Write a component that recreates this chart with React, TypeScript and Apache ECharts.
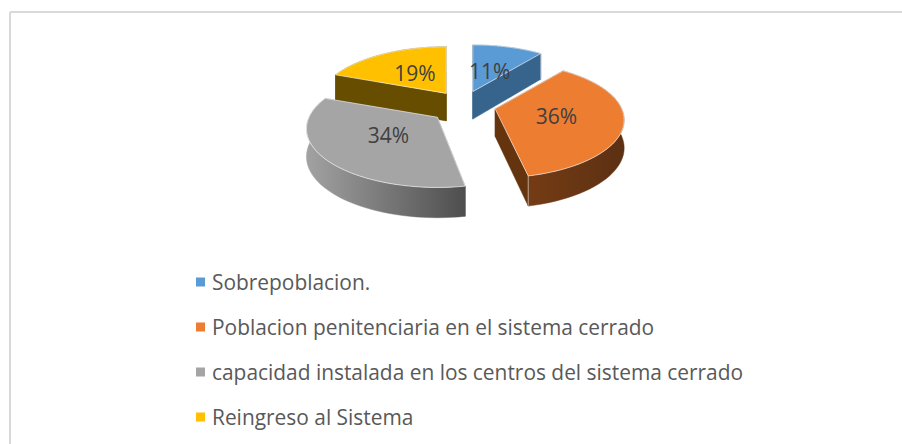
import React, { useEffect, useRef } from "react";
import * as echarts from "echarts";

const categories = [
  "Sobrepoblacion.",
  "Poblacion penitenciaria en el sistema cerrado",
  "capacidad instalada en los centros del sistema cerrado",
  "Reingreso al Sistema",
];
const values = [10.6, 36, 34.2, 19.2];
const topColors = ["#5B9BD5", "#ED7D31", "#A5A5A5", "#FFC000"];
const radialWallColors = ["#36648C", "#64340F", "#636363", "#664D00"];
const arcWallStart = ["#36648C", "#743C14", "#A2A2A2", "#664D00"];
const arcWallEnd = ["#36648C", "#5C3013", "#4E4E4E", "#664D00"];
const drawOrder = [0, 3, 1, 2];

const CX = 463;
const CY = 105.6;
const R = 126.6;
const K = 55.7;
const P = 0.192;
const EX = 33;
const EY = 14.8;
const DEPTH = 27.5;
const FONT = "'Open Sans', sans-serif";
const sliceScale = [1, 1, 1.015, 1];
const startInsetDeg = [0, 0, 2.2, 0];
const nudgeX = [-1, 0, -0.5, 2];
const nudgeY = [0, 0, 2, 0];
const labelNudgeX = [-1, 2, -1, 0];
const labelNudgeY = [2, 1, 0, 0];

const total = values.reduce((a, b) => a + b, 0);

function project(ax: number, ay: number, theta: number, r: number) {
  const s = Math.sin(theta);
  const c = Math.cos(theta);
  const d = 1 + P * r * c;
  return [ax + (R * r * s) / d, ay - (K * r * c) / d];
}
function depthAt(theta: number, r: number) {
  return DEPTH / (1 + 0.09 * r * Math.cos(theta));
}

function sliceChildren(i: number) {
  const before = values.slice(0, i).reduce((a, b) => a + b, 0);
  const t0Raw = (before / total) * Math.PI * 2;
  const t1 = ((before + values[i]) / total) * Math.PI * 2;
  const t0 = t0Raw + (startInsetDeg[i] * Math.PI) / 180;
  const mid = (t0Raw + t1) / 2;
  const ax = CX + EX * Math.sin(mid) + nudgeX[i];
  const ay = CY - EY * Math.cos(mid) + nudgeY[i];
  const scale = sliceScale[i];

  const steps = 48;
  const top: number[][] = [];
  const bottom: number[][] = [];
  for (let n = 0; n <= steps; n++) {
    const t = t0 + ((t1 - t0) * n) / steps;
    const p = project(ax, ay, t, scale);
    top.push(p);
    bottom.push([p[0], p[1] + depthAt(t, 1)]);
  }
  const apex = [ax, ay];
  const apexLow = [ax, ay + DEPTH];
  const edge = "rgba(255,255,255,0.5)";
  const wall = (points: number[][], fill: any, z2: number) => ({
    type: "polygon",
    z2,
    shape: { points },
    style: { fill, stroke: fill, lineWidth: 0.5 },
  });
  const grad = new echarts.graphic.LinearGradient(0, 0, 1, 0, [
    { offset: 0, color: arcWallStart[i] },
    { offset: 1, color: arcWallEnd[i] },
  ]);
  const label = project(ax, ay, mid, 0.47);
  return [
    wall([apex, top[0], bottom[0], apexLow], radialWallColors[i], 1),
    wall([apex, top[steps], bottom[steps], apexLow], radialWallColors[i], 1),
    wall([...top, ...bottom.slice().reverse()], grad, 2),
    {
      type: "polyline",
      z2: 3,
      shape: { points: [top[steps], bottom[steps]] },
      style: { fill: "none", stroke: edge, lineWidth: 1 },
    },
    {
      type: "polygon",
      z2: 4,
      shape: { points: [apex, ...top] },
      style: { fill: topColors[i], stroke: "rgba(255,255,255,0.6)", lineWidth: 1 },
    },
    {
      type: "text",
      z2: 5,
      style: {
        text: `${Math.round(values[i])}%`,
        x: label[0] + labelNudgeX[i],
        y: label[1] + labelNudgeY[i],
        align: "center",
        verticalAlign: "middle",
        fontFamily: FONT,
        fontSize: 21,
        fill: "#404040",
      },
    },
  ];
}

export default function App() {
  const ref = useRef<HTMLDivElement>(null);
  useEffect(() => {
    document.body.style.margin = "0";
    const chart = echarts.init(ref.current!, null, { renderer: "svg" });
    chart.setOption({
      animation: false,
      backgroundColor: "#ffffff",
      graphic: [
        { type: "line", shape: { x1: 10, y1: 12, x2: 902, y2: 12 }, style: { stroke: "#D9D9D9", lineWidth: 2 } },
        { type: "line", shape: { x1: 10, y1: 12, x2: 10, y2: 444 }, style: { stroke: "#D9D9D9", lineWidth: 2 } },
      ],
      legend: {
        orient: "vertical",
        left: 191,
        top: 265,
        icon: "rect",
        itemWidth: 9,
        itemHeight: 9,
        itemGap: 21,
        selectedMode: false,
        data: categories,
        textStyle: {
          fontFamily: FONT,
          fontSize: 20.9,
          lineHeight: 24,
          color: "#595959",
          padding: [0, 0, 0, 2],
        },
      },
      series: drawOrder.map((i) => ({
        type: "custom",
        name: categories[i],
        coordinateSystem: "none",
        itemStyle: { color: topColors[i] },
        data: [[values[i]]],
        renderItem: () => ({ type: "group", children: sliceChildren(i) }),
      })),
    });
    return () => chart.dispose();
  }, []);
  return <div ref={ref} style={{ width: 902, height: 444 }} />;
}
